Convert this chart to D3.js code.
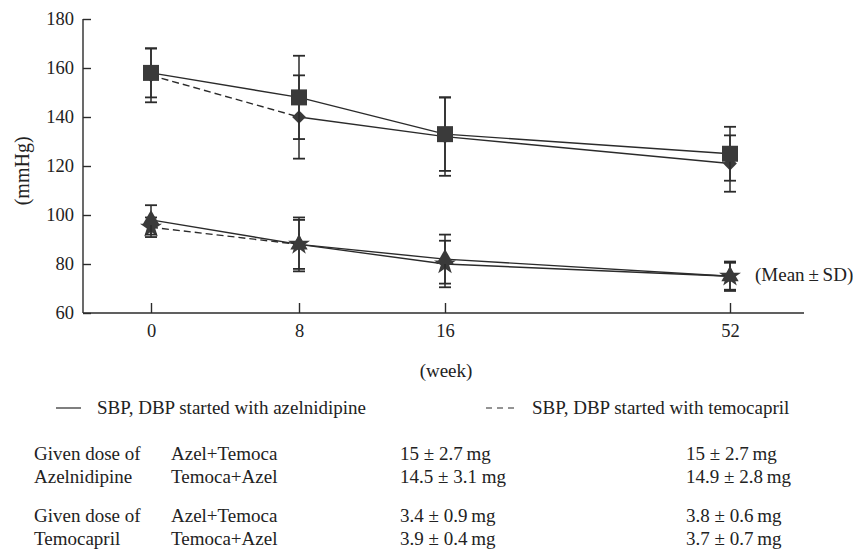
<!DOCTYPE html>
<html>
<head>
<meta charset="utf-8">
<script src="https://cdn.jsdelivr.net/npm/d3@7"></script>
<style>
  body { margin: 0; background: #fff; }
  svg text { font-family: "Liberation Serif", "Times New Roman", serif; fill: #222; }
</style>
</head>
<body>
<div class="svg-content"></div>
<script>
// weeks on the x axis
var weeks = [0, 8, 16, 52];
var yTicks = [60, 80, 100, 120, 140, 160, 180];

// SBP, started with azelnidipine (squares, solid)
var sbpAzel = [158, 148, 133, 125];
var sbpAzelSD = [10, 17, 15, 11];
// SBP, started with temocapril (diamonds, dashed first leg)
var sbpTemo = [157, 140, 132, 121];
var sbpTemoSD = [11, 17, 16, 11.5];
// DBP, started with azelnidipine (triangles, solid)
var dbpAzel = [98, 88, 82, 75];
var dbpAzelSD = [6, 11, 10, 6];
// DBP, started with temocapril (stars, dashed first leg)
var dbpTemo = [95, 88, 80, 75];
var dbpTemoSD = [4, 10, 9.5, 5.5];

var legendLabels = ["SBP, DBP started with azelnidipine", "SBP, DBP started with temocapril"];

// dose table
var doseGroups = [["Given dose of", "Azelnidipine"], ["Given dose of", "Temocapril"]];
var doseArms = ["Azel+Temoca", "Temoca+Azel"];
var doseMid = [["15 \u00b1 2.7\u2009mg", "14.5 \u00b1 3.1 mg"], ["3.4 \u00b1 0.9\u2009mg", "3.9 \u00b1 0.4\u2009mg"]];
var doseEnd = [["15 \u00b1 2.7\u2009mg", "14.9 \u00b1 2.8\u2009mg"], ["3.8 \u00b1 0.6\u2009mg", "3.7 \u00b1 0.7\u2009mg"]];

var width = 853, height = 552;
var ink = "#2b2b2b", markFill = "#3a3a3a";
var fs = "19px";

var svg = d3.select(".svg-content")
  .append("svg")
  .attr("width", width)
  .attr("height", height);

// piecewise scale: the 16 -> 52 gap is drawn about twice as wide as 0 -> 8
var x = d3.scaleLinear().domain(weeks).range([151, 299, 445, 730]);
var y = d3.scaleLinear().domain([60, 180]).range([313, 19]);

// axes
var yAxis = svg.append("g")
  .attr("transform", "translate(83,0)")
  .call(d3.axisLeft(y).tickValues(yTicks).tickSizeInner(-8).tickSizeOuter(0).tickPadding(9));
var xAxis = svg.append("g")
  .attr("transform", "translate(0,313)")
  .call(d3.axisBottom(x).tickValues(weeks).tickSizeInner(-10).tickSizeOuter(0).tickPadding(11));

[yAxis, xAxis].forEach(function(a) {
  a.select(".domain").remove();
  a.selectAll("line").attr("stroke", ink).attr("stroke-width", 1.4);
  a.selectAll("text").attr("font-size", "18.5px").attr("fill", "#222")
    .attr("font-family", "Liberation Serif, serif");
});
// axis lines
svg.append("line").attr("x1", 83).attr("x2", 83).attr("y1", y(180)).attr("y2", y(60))
  .attr("stroke", ink).attr("stroke-width", 1.4);
svg.append("line").attr("x1", 83).attr("x2", 804).attr("y1", y(60)).attr("y2", y(60))
  .attr("stroke", ink).attr("stroke-width", 1.4);

svg.append("text")
  .attr("transform", "translate(29," + y(118) + ") rotate(-90)")
  .attr("text-anchor", "middle")
  .attr("font-size", "20px")
  .text("(mmHg)");

svg.append("text")
  .attr("x", 446).attr("y", 377)
  .attr("text-anchor", "middle")
  .attr("font-size", fs)
  .text("(week)");

var series = [
  { vals: sbpTemo, sd: sbpTemoSD, sym: d3.symbolDiamond2, size: 120, dashed: true },
  { vals: sbpAzel, sd: sbpAzelSD, sym: d3.symbolSquare, size: 256, dashed: false },
  { vals: dbpTemo, sd: dbpTemoSD, sym: d3.symbolStar, size: 150, dashed: true },
  { vals: dbpAzel, sd: dbpAzelSD, sym: d3.symbolTriangle, size: 130, dashed: false }
];

var line = d3.line()
  .x(function(d) { return x(d.w); })
  .y(function(d) { return y(d.v); });

series.forEach(function(s) {
  var pts = weeks.map(function(w, i) { return { w: w, v: s.vals[i], sd: s.sd[i] }; });

  // first leg (0 -> 8) dashed for temocapril start, the rest solid
  svg.append("path")
    .datum(pts.slice(0, 2))
    .attr("d", line)
    .attr("fill", "none").attr("stroke", ink).attr("stroke-width", 1.4)
    .attr("stroke-dasharray", s.dashed ? "7,4" : null);
  svg.append("path")
    .datum(pts.slice(1))
    .attr("d", line)
    .attr("fill", "none").attr("stroke", ink).attr("stroke-width", 1.4);

  var g = svg.selectAll(null)
    .data(pts)
    .enter()
    .append("g")
    .attr("transform", function(d) { return "translate(" + x(d.w) + ",0)"; });

  g.append("line")
    .attr("y1", function(d) { return y(d.v + d.sd); })
    .attr("y2", function(d) { return y(d.v - d.sd); })
    .attr("stroke", ink).attr("stroke-width", 1.5);
  [1, -1].forEach(function(k) {
    g.append("line")
      .attr("x1", -6).attr("x2", 6)
      .attr("y1", function(d) { return y(d.v + k * d.sd); })
      .attr("y2", function(d) { return y(d.v + k * d.sd); })
      .attr("stroke", ink).attr("stroke-width", 1.8);
  });

  g.append("path")
    .attr("d", d3.symbol().type(s.sym).size(s.size))
    .attr("transform", function(d) { return "translate(0," + y(d.v) + ")"; })
    .attr("fill", markFill);
});

svg.append("text")
  .attr("x", 755).attr("y", 281)
  .attr("font-size", fs)
  .text("(Mean\u2009\u00b1\u2009SD)");

// legend
var legend = svg.append("g").attr("transform", "translate(0,408)");
legend.append("line").attr("x1", 56).attr("x2", 81).attr("y1", 0).attr("y2", 0)
  .attr("stroke", ink).attr("stroke-width", 1.2);
legend.append("text").attr("x", 97).attr("y", 6).attr("font-size", fs).text(legendLabels[0]);
legend.append("line").attr("x1", 486).attr("x2", 518).attr("y1", 0).attr("y2", 0)
  .attr("stroke", ink).attr("stroke-width", 1.2).attr("stroke-dasharray", "6,5");
legend.append("text").attr("x", 532).attr("y", 6).attr("font-size", fs).text(legendLabels[1]);

// dose table
var rowY = [[460, 483], [522, 545]];
doseGroups.forEach(function(grp, gi) {
  grp.forEach(function(t, ri) {
    svg.append("text").attr("x", 34).attr("y", rowY[gi][ri]).attr("font-size", fs).text(t);
    svg.append("text").attr("x", 171).attr("y", rowY[gi][ri]).attr("font-size", fs).text(doseArms[ri]);
    svg.append("text").attr("x", 400).attr("y", rowY[gi][ri]).attr("font-size", fs).text(doseMid[gi][ri]);
    svg.append("text").attr("x", 686).attr("y", rowY[gi][ri]).attr("font-size", fs).text(doseEnd[gi][ri]);
  });
});
</script>
</body>
</html>
